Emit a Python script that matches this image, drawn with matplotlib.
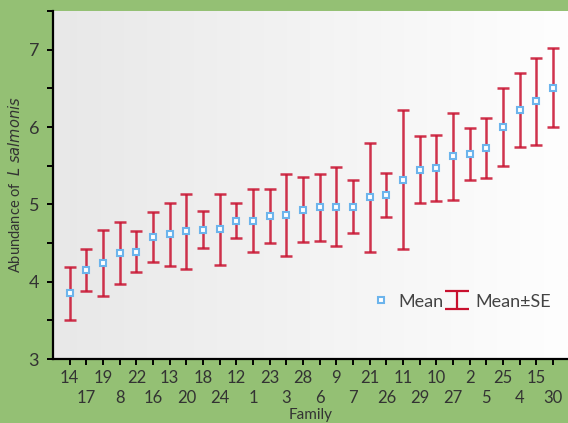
import numpy as np
import matplotlib
matplotlib.use("Agg")
import matplotlib.pyplot as plt

# families in plotted order (sorted by mean abundance)
families = ["14", "17", "19", "8", "22", "16", "13", "20", "18", "24",
            "12", "1", "23", "3", "28", "6", "9", "7", "21", "26",
            "11", "29", "10", "27", "2", "5", "25", "4", "15", "30"]
means = [3.85, 4.15, 4.24, 4.37, 4.39, 4.58, 4.61, 4.65, 4.67, 4.68,
         4.79, 4.79, 4.85, 4.86, 4.93, 4.96, 4.97, 4.97, 5.09, 5.12,
         5.32, 5.45, 5.47, 5.62, 5.65, 5.73, 6.00, 6.22, 6.33, 6.51]
se = [0.34, 0.27, 0.43, 0.40, 0.26, 0.32, 0.41, 0.48, 0.24, 0.46,
      0.23, 0.41, 0.35, 0.53, 0.42, 0.43, 0.51, 0.34, 0.70, 0.28,
      0.90, 0.43, 0.43, 0.56, 0.34, 0.39, 0.51, 0.48, 0.56, 0.51]

GREEN = "#94c074"
RED = "#c8102e"
BLUE = "#6cb4ec"
TXT = "#333333"
plt.rcParams["font.family"] = ["Lato", "DejaVu Sans"]

fig = plt.figure(figsize=(5.68, 4.23), dpi=100, facecolor=GREEN)
ax = fig.add_axes([53 / 568, 1 - 359 / 423, 1 - 53 / 568, 348 / 423])
x = np.arange(1, len(families) + 1)
ax.set_xlim(0, 30.9)
ax.set_ylim(3, 7.5)

# light grey -> white gradient in the plot area
grad = np.linspace(0, 1, 256)[None, :]
cmap = matplotlib.colors.LinearSegmentedColormap.from_list("g", ["#e8e8e8", "#fefefe"])
ax.imshow(grad, extent=(0, 30.9, 3, 7.5), aspect="auto", cmap=cmap, zorder=0)

ax.errorbar(x, means, yerr=se, fmt="none", ecolor=RED, elinewidth=1.8,
            capsize=4.2, capthick=1.8, alpha=0.85, zorder=2)
pt, = ax.plot(x, means, "s", ms=5, mfc="white", mec=BLUE, mew=1.5, zorder=3)
# proxy with wider caps, only used for the legend icon
eb_leg = ax.errorbar([np.nan], [np.nan], yerr=[0.1], fmt="none", ecolor=RED,
                     elinewidth=1.6, capsize=8.5, capthick=1.6)

for s in ("top", "right"):
    ax.spines[s].set_visible(False)
for s in ("left", "bottom"):
    ax.spines[s].set_linewidth(1.6)
    ax.spines[s].set_color("black")

ax.set_yticks([3, 4, 5, 6, 7])
ax.set_yticks([3.5, 4.5, 5.5, 6.5, 7.5], minor=True)
ax.tick_params(axis="y", which="both", length=4, width=1.4, labelsize=13,
               labelcolor=TXT, pad=6)

# two staggered rows of family labels: odd positions on major, even on minor ticks
ax.xaxis.set_major_locator(matplotlib.ticker.FixedLocator(x[0::2]))
ax.xaxis.set_minor_locator(matplotlib.ticker.FixedLocator(x[1::2]))
ax.set_xticklabels(families[0::2])
ax.set_xticklabels(families[1::2], minor=True)
ax.tick_params(axis="x", which="both", length=4, width=1.4, labelsize=12,
               labelcolor=TXT)
ax.tick_params(axis="x", which="major", pad=4)
ax.tick_params(axis="x", which="minor", pad=18)

ax.set_xlabel("Family", fontsize=11, color=TXT)
ax.xaxis.set_label_coords(0.5, -0.141)
ax.set_ylabel(r"Abundance of  $\it{L\ salmonis}$", fontsize=10.5, color=TXT, labelpad=4)

ax.legend([pt, eb_leg], ["Mean", "Mean±SE"], loc="center", bbox_to_anchor=(0.79, 0.165),
          ncol=2, frameon=False, fontsize=13, handlelength=1.3, handletextpad=0.35,
          columnspacing=0.1, labelcolor="#444444")

fig.savefig("out.png", dpi=100, facecolor=GREEN)
